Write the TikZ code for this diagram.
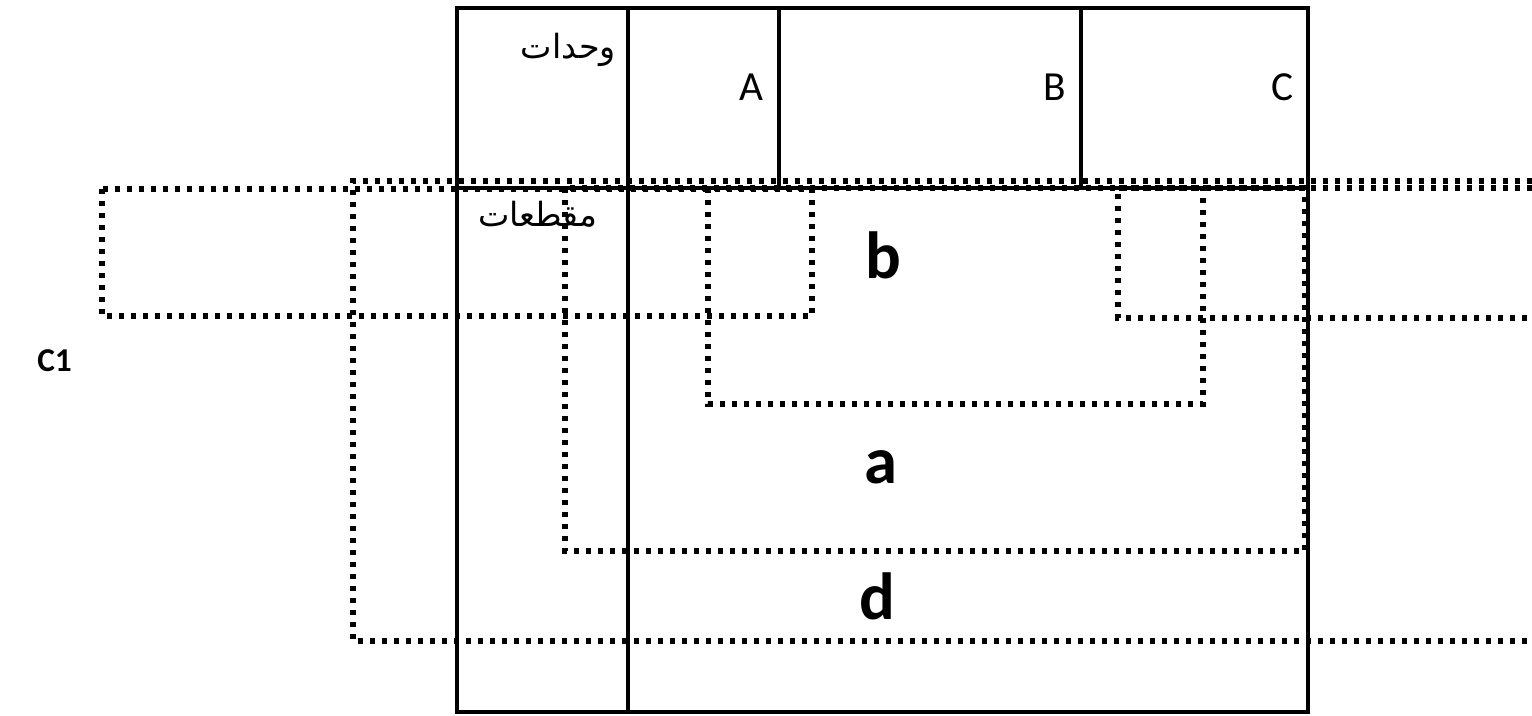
\documentclass[tikz,border=0pt]{standalone}
\usepackage{fontspec}
\setmainfont{Carlito}
\newfontfamily\arabicfont[Script=Arabic]{DejaVu Sans}
\TeXXeTstate=1

\tikzset{
  gridline/.style={line width=2.4pt},
  dotbox/.style={line width=3.8pt,line cap=butt,dash pattern=on 3.8pt off 5.2pt},
  celltext/.style={font=\fontsize{31}{36}\selectfont,anchor=base east,inner sep=0pt},
  zonelabel/.style={font=\bfseries\fontsize{50}{56}\selectfont,anchor=base west,inner sep=0pt},
  arabtext/.style={font=\arabicfont\fontsize{25}{30}\selectfont,anchor=east,inner sep=0pt}
}

\begin{document}
\begin{tikzpicture}[x=0.75pt,y=-0.75pt]
\useasboundingbox (0,0) rectangle (1532,715);
% dotted zones
\draw[dotbox] (102,189) rectangle (812,316);
\draw[dotbox] (1532,181) -- (353,181) -- (353,641) -- (1532,641);
\draw[dotbox] (565,188) rectangle (1305,551);
\draw[dotbox] (708,188) -- (708,404) -- (1203,404) -- (1203,188);
\draw[dotbox] (1532,188) -- (1118,188) -- (1118,318) -- (1532,318);
% table
\draw[gridline] (457,8) rectangle (1308,712);
\draw[gridline] (628,8) -- (628,712);
\draw[gridline] (457,188) -- (1308,188);
\draw[gridline] (779,8) -- (779,188);
\draw[gridline] (1081,8) -- (1081,188);
% texts
\node[arabtext] (units) at (616,50) {\beginR وحدات\endR};
\node[arabtext] (sections) at (598,214) {\beginR مقطعات\endR};
\node[celltext] (colA) at (764,100) {A};
\node[celltext] (colB) at (1066,100) {B};
\node[celltext] (colC) at (1294,100) {C};
\node[zonelabel] (zoneB) at (865,278) {b};
\node[zonelabel] (zoneA) at (864,483) {a};
\node[zonelabel] (zoneD) at (859,619) {d};
\node[font=\bfseries\fontsize{25}{30}\selectfont,anchor=base west,inner sep=0pt] (rowC1) at (37,371) {C1};
\end{tikzpicture}
\end{document}
